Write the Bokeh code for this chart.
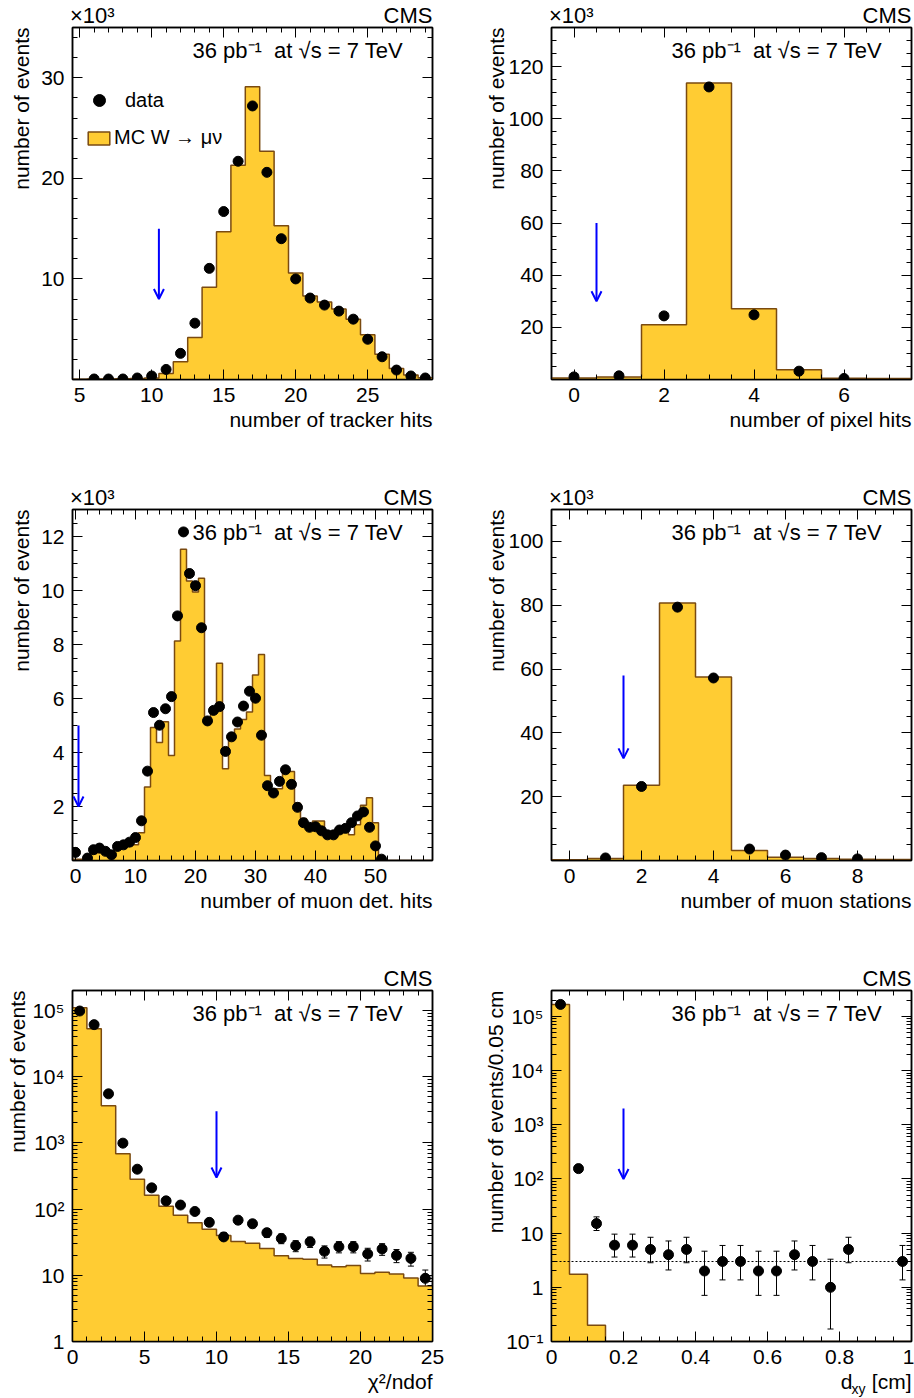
import numpy as np
from bokeh.plotting import figure
from bokeh.models import (FixedTicker, LinearAxis, LogAxis, Label, Legend, LegendItem, Title,
                          Arrow, OpenHead, Whisker, TeeHead, ColumnDataSource, Range1d)
from bokeh.core.properties import value
from bokeh.layouts import column, row
from bokeh.embed import file_html
from bokeh.resources import INLINE

FONT = "Liberation Sans"
MC_FILL = "#FFCC33"
MC_LINE = "#7A4A10"
ARROW = "#0000FF"
NB = "\u00a0"

# ---------------- data ----------------
# 1) number of tracker hits (x10^3)
trk_bins = list(range(5, 30))
trk_mc = [0.03, 0.04, 0.05, 0.07, 0.1, 0.15, 0.6, 1.76, 4.17, 9.18, 14.7, 21.3, 29.1,
          22.7, 15.3, 10.6, 8.3, 7.7, 7.0, 6.0, 4.46, 2.5, 1.1, 0.45, 0.18]
trk_data_x = list(range(6, 30))
trk_data = [0.05, 0.05, 0.05, 0.15, 0.35, 1.0, 2.6, 5.6, 11.05, 16.7, 21.7, 27.2, 20.6,
            14.0, 10.0, 8.1, 7.4, 6.8, 6.0, 4.0, 2.26, 0.94, 0.35, 0.15]
trk_cut = [10.5, 15.0, 8.0]

# 2) number of pixel hits (x10^3)
pix_bins = list(range(0, 8))
pix_mc = [0.6, 1.0, 21.0, 113.7, 27.1, 3.7, 0.5, 0.4]
pix_data_x = list(range(0, 7))
pix_data = [1.0, 1.4, 24.4, 112.2, 24.8, 3.2, 0.4]
pix_cut = [0.5, 60.0, 30.0]

# 3) number of muon detector hits (x10^3)
mu_bins = list(range(0, 60))
mu_mc = [0.05, 0.05, 0.1, 0.25, 0.3, 0.3, 0.35, 0.45, 0.5, 0.55,
         0.58, 1.03, 2.72, 4.93, 4.37, 5.14, 3.89, 8.13, 11.53, 10.35,
         9.94, 10.45, 5.2, 5.45, 7.31, 3.4, 4.45, 4.87, 5.22, 5.5,
         6.87, 7.63, 3.15, 2.66, 2.66, 3.33, 3.3, 2.12, 1.56, 1.32,
         1.46, 1.46, 1.0, 1.0, 1.13, 1.25, 0.95, 1.32, 2.05, 2.32,
         1.4, 0.02, 0, 0, 0, 0, 0, 0, 0, 0]
mu_data_x = [0] + list(range(2, 52))
mu_data = [0.3, 0.09, 0.4, 0.46, 0.34, 0.21, 0.52, 0.58, 0.68,
           0.85, 1.47, 3.31, 5.48, 5.01, 5.62, 6.07, 9.06, 12.17, 10.63,
           10.18, 8.62, 5.17, 5.56, 5.7, 4.04, 4.58, 5.13, 5.72, 6.27,
           6.01, 4.64, 2.77, 2.5, 2.93, 3.36, 2.82, 1.97, 1.40, 1.23,
           1.25, 1.10, 0.95, 0.95, 1.13, 1.19, 1.40, 1.65, 1.80, 1.23,
           0.54, 0.05]
mu_cut = [0.5, 5.0, 2.0]

# 4) number of muon stations (x10^3)
st_bins = list(range(0, 10))
st_mc = [0.2, 0.6, 23.6, 80.7, 57.5, 3.1, 1.0, 0.6, 0.4, 0.3]
st_data_x = list(range(1, 9))
st_data = [0.8, 23.2, 79.4, 57.2, 3.6, 1.7, 0.9, 0.5]
st_cut = [1.5, 58.0, 32.0]

# 5) chi2/ndof
chi_bins = [i + 0.5 for i in range(25)]
chi_mc = [1.1e5, 5.3e4, 3630, 684, 282, 162, 110, 81, 62, 49.5, 39.8, 32.4, 30.5,
          25.4, 19.7, 18.0, 17.4, 14.3, 13.5, 14.0, 10.6, 11.1, 10.5, 9.1, 6.9]
chi_data = [9.8e4, 6.1e4, 5500, 990, 400, 209, 133, 115, 92, 63, 38, 68, 60, 44, 36,
            28, 32, 23, 27, 27, 21, 25, 20, 18, 9]
chi_cut = [10.0, 3000.0, 300.0]

# 6) dxy [cm]
dxy_bins = [0.025, 0.075, 0.125, 0.175, 0.225, 0.275, 0.325, 0.375, 0.425, 0.475,
            0.525, 0.575, 0.625, 0.675, 0.725, 0.775, 0.825, 0.875, 0.925, 0.975]
dxy_mc = [1.66e5, 1.75, 0.2, 0, 0, 0, 0, 0, 0, 0, 0, 0, 0, 0, 0, 0, 0, 0, 0, 0]
dxy_data = [166000, 155, 15, 6, 6, 5, 4, 5, 2, 3, 3, 2, 2, 4, 3, 1, 5, 0, 0, 3]
dxy_lo = [165600, 142.6, 11.17, 3.62, 3.62, 2.84, 2.09, 2.84, 0.71, 1.37, 1.37, 0.71,
          0.71, 2.09, 1.37, 0.17, 2.84, 0, 0, 1.37]
dxy_hi = [166400, 167.9, 19.95, 9.58, 9.58, 8.38, 7.16, 8.38, 4.64, 5.92, 5.92, 4.64,
          4.64, 7.16, 5.92, 3.30, 8.38, 0, 0, 5.92]
dxy_flat = 3.0
dxy_cut = [0.2, 2000.0, 100.0]

# ---------------- layout ----------------
FW = 360
ROWS = [(25, 354, 103), (25, 353, 103), (25, 353, 57)]   # top border, frame h, bottom border
COLS = [(72, 25), (94, 3)]                              # left border, right border


def make_fig(col, rowi, xr, yr, log=False):
    left, right = COLS[col]
    top, fh, bottom = ROWS[rowi]
    p = figure(width=left + FW + right, height=top + fh + bottom,
               x_range=Range1d(*xr), y_range=Range1d(*yr),
               y_axis_type="log" if log else "linear",
               output_backend="svg", toolbar_location=None,
               min_border_left=left, min_border_right=right,
               min_border_top=top, min_border_bottom=bottom)
    p.grid.visible = False
    p.outline_line_color = "black"
    p.outline_line_width = 1.5
    p.background_fill_color = "white"
    p.border_fill_color = "white"
    return p


def style_axis(ax, ticks, minor, show=True, vertical=False, overrides=None):
    ax.ticker = FixedTicker(ticks=ticks, minor_ticks=list(minor))
    ax.axis_line_color = "black"
    ax.axis_line_width = 1.5
    ax.major_tick_in = 10
    ax.major_tick_out = 0
    ax.minor_tick_in = 5
    ax.minor_tick_out = 0
    ax.major_tick_line_color = "black"
    ax.minor_tick_line_color = "black"
    ax.major_tick_line_width = 1
    ax.minor_tick_line_width = 1
    ax.axis_label = None
    if show:
        ax.major_label_text_font = FONT
        ax.major_label_text_font_size = "21px"
        ax.major_label_text_color = "black"
        ax.major_label_standoff = 8
        if overrides:
            ax.major_label_overrides = overrides
    else:
        ax.major_label_overrides = {t: "" for t in ticks}
        ax.major_label_text_font_size = "1px"
        ax.major_label_text_color = None
        ax.major_label_standoff = 0


def axes(p, xt, xm, yt, ym, log=False, xo=None, yo=None):
    style_axis(p.below[0], xt, xm, overrides=xo)
    style_axis(p.left[0], yt, ym, vertical=True, overrides=yo)
    top = LinearAxis()
    style_axis(top, xt, xm, show=False)
    p.add_layout(top, "above")
    right = LogAxis() if log else LinearAxis()
    style_axis(right, yt, ym, show=False)
    p.add_layout(right, "right")


def side_title(p, text, side, standoff):
    p.add_layout(Title(text=text, align="right", text_font=FONT, text_font_size="21px",
                       text_font_style="normal", text_color="black", standoff=standoff), side)


def decor(p, fh, xtitle, ytitle, ystand, x1000=True):
    head = ("×10³" + NB * 44 + "CMS") if x1000 else "CMS"
    p.title.text = head
    p.title.align = "right"
    p.title.text_font = FONT
    p.title.text_font_size = "22px"
    p.title.text_line_height = 0.75
    p.title.text_font_style = "normal"
    p.title.text_color = "black"
    p.title.standoff = 0
    p.add_layout(Label(x=120, y=fh - 25, x_units="screen", y_units="screen",
                       text="36 pb⁻¹" + NB + NB + "at √s = 7 TeV",
                       text_font=FONT, text_font_size="22px", text_baseline="middle",
                       text_color="black"))
    side_title(p, ytitle, "left", ystand)
    if xtitle:
        side_title(p, xtitle, "below", 2)


def draw_mc(p, centers, vals, base):
    c = np.asarray(centers, dtype=float)
    w = c[1] - c[0]
    v = np.maximum(np.asarray(vals, dtype=float), base)
    edges = np.append(c - w / 2, c[-1] + w / 2)
    xs = np.repeat(edges, 2)[1:-1]
    ys = np.repeat(v, 2)
    p.varea(x=xs, y1=np.full_like(ys, base), y2=ys, fill_color=MC_FILL)
    p.line(xs, ys, line_color=MC_LINE, line_width=1.5)


def draw_data(p, x, y):
    return p.scatter(x, y, size=10, color="black")


def draw_cut(p, cut):
    p.add_layout(Arrow(end=OpenHead(size=10, line_color=ARROW, line_width=2),
                       x_start=cut[0], y_start=cut[1], x_end=cut[0], y_end=cut[2],
                       line_color=ARROW, line_width=2))


def errbars(p, x, lo, hi):
    src = ColumnDataSource(dict(base=x, lower=lo, upper=hi))
    p.add_layout(Whisker(source=src, base="base", lower="lower", upper="upper",
                         dimension="height", line_color="black", line_width=1,
                         upper_head=TeeHead(size=6, line_color="black", line_width=1),
                         lower_head=TeeHead(size=6, line_color="black", line_width=1)))


# ---- panel 1: tracker hits
H1 = ROWS[0][1]
p1 = make_fig(0, 0, (4.5, 29.5), (0, 35))
axes(p1, [5, 10, 15, 20, 25], np.arange(5, 30, 1), [10, 20, 30], np.arange(2, 35, 2))
draw_mc(p1, trk_bins, trk_mc, 0)
dots = draw_data(p1, trk_data_x, trk_data)
draw_cut(p1, trk_cut)
decor(p1, H1, "number of tracker hits", "number of events", 11)
box = p1.quad(left=[np.nan], right=[np.nan], top=[np.nan], bottom=[np.nan],
              fill_color=MC_FILL, line_color=MC_LINE, line_width=1.5)
leg_a = Legend(items=[LegendItem(label="data", renderers=[dots])], location=(12, H1 - 90),
               glyph_width=30, glyph_height=30, label_standoff=11, padding=0, margin=0,
               border_line_alpha=0, background_fill_alpha=0, label_text_font=FONT,
               label_text_font_size="20px", label_text_color="black")
leg_b = Legend(items=[LegendItem(label="MC W → μν", renderers=[box])], location=(13, H1 - 124),
               glyph_width=27, glyph_height=16, label_standoff=2, padding=0, margin=0,
               border_line_alpha=0, background_fill_alpha=0, label_text_font=FONT,
               label_text_font_size="20px", label_text_color="black")
p1.add_layout(leg_a)
p1.add_layout(leg_b)

# ---- panel 2: pixel hits
p2 = make_fig(1, 0, (-0.5, 7.5), (0, 135))
axes(p2, [0, 2, 4, 6], np.arange(-0.5, 7.6, 0.5), [20, 40, 60, 80, 100, 120], np.arange(5, 135, 5))
draw_mc(p2, pix_bins, pix_mc, 0)
draw_data(p2, pix_data_x, pix_data)
draw_cut(p2, pix_cut)
decor(p2, H1, "number of pixel hits", "number of events", -4)

# ---- panel 3: muon detector hits
H2 = ROWS[1][1]
p3 = make_fig(0, 1, (-0.5, 59.5), (0, 13))
axes(p3, [0, 10, 20, 30, 40, 50], np.arange(0, 60, 2), [2, 4, 6, 8, 10, 12], np.arange(0.5, 13, 0.5))
draw_mc(p3, mu_bins, mu_mc, 0)
draw_data(p3, mu_data_x, mu_data)
draw_cut(p3, mu_cut)
decor(p3, H2, "number of muon det. hits", "number of events", 11)

# ---- panel 4: muon stations
p4 = make_fig(1, 1, (-0.5, 9.5), (0, 110))
axes(p4, [0, 2, 4, 6, 8], np.arange(-0.5, 9.6, 0.5), [20, 40, 60, 80, 100], np.arange(5, 110, 5))
draw_mc(p4, st_bins, st_mc, 0)
draw_data(p4, st_data_x, st_data)
draw_cut(p4, st_cut)
decor(p4, H2, "number of muon stations", "number of events", -4)

# ---- panel 5: chi2/ndof
H3 = ROWS[2][1]
p5 = make_fig(0, 2, (0, 25), (1, 2e5), log=True)
log_minor5 = [k * 10.0 ** e for e in range(0, 6) for k in range(2, 10)]
axes(p5, [0, 5, 10, 15, 20, 25], np.arange(0, 26, 1),
     [1, 10, 100, 1000, 10000, 100000], log_minor5, log=True,
     yo={1: "1", 10: "10", 100: "10²", 1000: "10³", 10000: "10⁴", 100000: "10⁵"})
draw_mc(p5, chi_bins, chi_mc, 1)
chi_d = np.asarray(chi_data, dtype=float)
errbars(p5, chi_bins, list(chi_d - np.sqrt(chi_d)), list(chi_d + np.sqrt(chi_d)))
draw_data(p5, chi_bins, chi_data)
draw_cut(p5, chi_cut)
decor(p5, H3, "χ²/ndof", "number of events", 1, x1000=False)

# ---- panel 6: dxy
XR6, YR6 = (0, 1), (0.1, 3e5)
p6 = make_fig(1, 2, XR6, YR6, log=True)
log_minor6 = [k * 10.0 ** e for e in range(-1, 6) for k in range(2, 10)]
axes(p6, [0, 0.2, 0.4, 0.6, 0.8, 1], np.arange(0, 1.001, 0.05),
     [0.1, 1, 10, 100, 1000, 10000, 100000], log_minor6, log=True,
     xo={0: "0", 0.2: "0.2", 0.4: "0.4", 0.6: "0.6", 0.8: "0.8", 1: "1"},
     yo={0.1: "10⁻¹", 1: "1", 10: "10", 100: "10²", 1000: "10³", 10000: "10⁴", 100000: "10⁵"})
draw_mc(p6, dxy_bins, dxy_mc, YR6[0])
p6.hspan(y=[dxy_flat], line_color="black", line_width=1, line_dash="2 2")
keep = [i for i, n in enumerate(dxy_data) if n > 0]
errbars(p6, [dxy_bins[i] for i in keep], [dxy_lo[i] for i in keep], [dxy_hi[i] for i in keep])
draw_data(p6, [dxy_bins[i] for i in keep], [dxy_data[i] for i in keep])
draw_cut(p6, dxy_cut)
decor(p6, H3, None, "number of events/0.05 cm", -6, x1000=False)
# x title with subscript, drawn as text outside the frame
for t, dx, dy, fs in [("[cm]", 0, 40, "21px"), ("xy", -46, 47, "14px"), ("d", -59, 40, "21px")]:
    p6.text(x=[XR6[1]], y=[YR6[0]], text=[t], x_offset=dx, y_offset=dy,
            text_align="right", text_baseline="middle", text_font=value(FONT),
            text_font_size=fs, text_color="black", level="annotation")

layout = column(row(p1, p2), row(p3, p4), row(p5, p6))
open("out.html", "w").write(file_html(layout, INLINE))
